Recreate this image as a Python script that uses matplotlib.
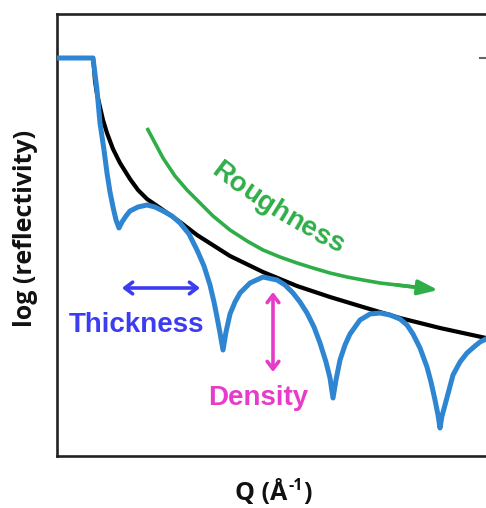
import numpy as np
import matplotlib
matplotlib.use("Agg")
import matplotlib.pyplot as plt
from matplotlib.lines import Line2D
from matplotlib.textpath import TextToPath
from matplotlib.font_manager import FontProperties

# Measured reflectivity curve (arbitrary units): Q and log(R)
q_meas = [0.00, 0.36, 0.40, 0.43, 0.47, 0.50, 0.53, 0.56, 0.59, 0.62, 0.65, 0.69,
          0.73, 0.81, 0.90, 0.98, 1.06, 1.15, 1.23, 1.32, 1.40, 1.47, 1.53, 1.57,
          1.60, 1.63, 1.66, 1.69, 1.73, 1.78, 1.83, 1.93, 2.06, 2.20, 2.28, 2.36,
          2.43, 2.50, 2.57, 2.63, 2.69, 2.73, 2.76, 2.79, 2.83, 2.88, 2.93, 3.03,
          3.13, 3.23, 3.33, 3.43, 3.50, 3.56, 3.63, 3.70, 3.74, 3.78, 3.81, 3.83,
          3.85, 3.88, 3.92, 3.96, 4.03, 4.10, 4.18, 4.23, 4.29, 4.38]
logr_meas = [3.98, 3.98, 3.66, 3.33, 3.06, 2.83, 2.64, 2.49, 2.36, 2.28, 2.34, 2.40,
             2.45, 2.49, 2.51, 2.49, 2.45, 2.40, 2.33, 2.22, 2.06, 1.90, 1.71, 1.54,
             1.39, 1.23, 1.06, 1.24, 1.42, 1.54, 1.63, 1.73, 1.79, 1.76, 1.71, 1.63,
             1.54, 1.43, 1.29, 1.13, 0.94, 0.78, 0.58, 0.76, 0.96, 1.11, 1.22, 1.36,
             1.42, 1.43, 1.41, 1.37, 1.31, 1.22, 1.08, 0.89, 0.74, 0.56, 0.41, 0.28,
             0.40, 0.51, 0.66, 0.81, 0.94, 1.03, 1.10, 1.14, 1.17, 1.21]

# Fresnel (smooth substrate) envelope
q_fresnel = [0.36, 0.37, 0.38, 0.40, 0.43, 0.46, 0.50, 0.56, 0.63, 0.73, 0.81,
             0.90, 1.06, 1.23, 1.40, 1.73, 2.06, 2.40, 2.73, 3.06, 3.43, 3.83,
             4.29, 4.38]
logr_fresnel = [3.98, 3.88, 3.75, 3.62, 3.49, 3.36, 3.23, 3.07, 2.93, 2.77, 2.66,
                2.57, 2.46, 2.34, 2.21, 2.00, 1.84, 1.70, 1.59, 1.49, 1.38, 1.28,
                1.18, 1.16]

# Roughness trend arrow path
q_rough = [0.90, 0.98, 1.06, 1.18, 1.30, 1.40, 1.56, 1.73, 1.90, 2.06, 2.23,
           2.40, 2.56, 2.73, 2.90, 3.06, 3.23, 3.40, 3.58]
logr_rough = [3.28, 3.13, 2.98, 2.80, 2.66, 2.56, 2.40, 2.26, 2.15, 2.06, 1.99,
              1.93, 1.88, 1.83, 1.79, 1.76, 1.73, 1.71, 1.69]
rough_tip = (3.81, 1.66)

# Annotation arrows
thick_span = (0.65, 1.43)
thick_level = 1.68
dens_q = 2.16
dens_span = (1.64, 0.84)

W, H = 486, 508
fig = plt.figure(figsize=(W / 100, H / 100), dpi=100)
ax = fig.add_axes([57 / W, (H - 456) / H, (600 - 57) / W, (456 - 14) / H])
ax.set_xlim(0, 5.43)
ax.set_ylim(0, 4.42)
ax.set_xticks([])
ax.set_yticks([])
for sp in ax.spines.values():
    sp.set_linewidth(1.9)
    sp.set_color("#222222")

blue = "#2e86d2"
ax.plot(q_fresnel, logr_fresnel, color="black", lw=3.0, solid_capstyle="round",
        solid_joinstyle="round", zorder=2)
ax.plot(q_meas, logr_meas, color=blue, lw=3.6, solid_joinstyle="round",
        solid_capstyle="butt", zorder=3)

green = "#2fae48"
ax.plot(q_rough, logr_rough, color=green, lw=2.6, solid_capstyle="butt", zorder=2)
ax.annotate("", xy=rough_tip, xytext=(q_rough[-2], logr_rough[-2]),
            arrowprops=dict(arrowstyle="-|>,head_length=1.2,head_width=0.45",
                            color=green, lw=2.6, shrinkA=0, shrinkB=0))

indigo = "#3c3cf2"
ax.annotate("", xy=(thick_span[1], thick_level), xytext=(thick_span[0], thick_level),
            arrowprops=dict(arrowstyle="<->,head_length=0.55,head_width=0.42",
                            color=indigo, lw=2.6, shrinkA=0, shrinkB=0,
                            capstyle="round", joinstyle="round"))
magenta = "#e63cc9"
ax.annotate("", xy=(dens_q, dens_span[1]), xytext=(dens_q, dens_span[0]),
            arrowprops=dict(arrowstyle="<->,head_length=0.55,head_width=0.42",
                            color=magenta, lw=2.6, shrinkA=0, shrinkB=0,
                            capstyle="round", joinstyle="round"))

lab = dict(family="Liberation Sans", weight="bold", fontsize=20)
ax.text(0.79, 1.31, "Thickness", color=indigo, ha="center", va="center", **lab)
ax.text(2.01, 0.58, "Density", color=magenta, ha="center", va="center", **lab)

# "Roughness" set letter by letter along a gently bending baseline (pixel units)
word = "Roughness"
fp = FontProperties(family="Liberation Sans", weight="bold", size=20)
t2p = TextToPath()
px_per_pt = 100 / 72


def prefix_width(txt):
    if not txt:
        return 0.0
    return t2p.get_text_width_height_descent(txt, fp, ismath=False)[0] * px_per_pt


edges = [prefix_width(word[:i]) for i in range(len(word) + 1)]
total = edges[-1]
x, y = 214.0, 167.0  # start of the baseline centre-line, pixels from top-left
a0, a1 = -38.0, -26.0
for i, ch in enumerate(word):
    adv = edges[i + 1] - edges[i]
    s_mid = edges[i] + adv / 2
    ang = a0 + (a1 - a0) * s_mid / total
    rad = np.deg2rad(ang)
    cx = x + adv / 2 * np.cos(rad)
    cy = y - adv / 2 * np.sin(rad)
    fig.text(cx / W, 1 - cy / H, ch, color=green, ha="center", va="center",
             rotation=ang, rotation_mode="anchor", **lab)
    x += adv * np.cos(rad)
    y -= adv * np.sin(rad)

axlab = dict(family="Open Sans", weight="bold", fontsize=18, color="#111111")
fig.text(25 / W, 1 - 228 / H, "log (reflectivity)", rotation=90,
         ha="center", va="center", **axlab)

# x label with a superscript exponent
fig.canvas.draw()
r = fig.canvas.get_renderer()
base = fig.text(0, 0, "Q (Å", ha="left", va="baseline", **axlab)
sup = fig.text(0, 0, "-1", ha="left", va="baseline",
               family="Open Sans", weight="bold", fontsize=11.5, color="#111111")
cl = fig.text(0, 0, ")", ha="left", va="baseline", **axlab)
wb = base.get_window_extent(r).width
ws = sup.get_window_extent(r).width
wc = cl.get_window_extent(r).width
tot = wb + ws + wc
x0 = 273 - tot / 2
yb = 500
base.set_position((x0 / W, 1 - yb / H))
sup.set_position(((x0 + wb + 1) / W, 1 - (yb - 10) / H))
cl.set_position(((x0 + wb + ws + 1) / W, 1 - yb / H))

# short tick mark at the right edge
fig.add_artist(Line2D([480 / W, 1.0], [1 - 58 / H, 1 - 58 / H],
                      transform=fig.transFigure, color="#666666", lw=1.5))

fig.savefig("out.png", dpi=100)
